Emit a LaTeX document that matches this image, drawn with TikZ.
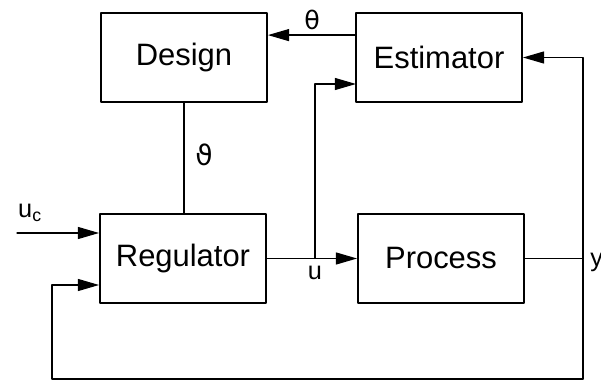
\documentclass[tikz,border=0pt]{standalone}
\usepackage{fontspec}
\setmainfont{Liberation Sans}
\newfontfamily\grk{DejaVu Sans}
\usetikzlibrary{arrows.meta}
\tikzset{
  blk/.style={draw,line width=1.3pt,minimum width=4.15cm,minimum height=2.225cm,inner sep=0pt},
  sig/.style={line width=0.9pt},
  lbl/.style={font=\fontsize{18}{20}\selectfont,inner sep=0pt}
}
\begin{document}
\begin{tikzpicture}[x=0.025cm,y=-0.025cm,>={Triangle[length=15pt,width=8.5pt]},line join=round,line cap=round,font=\fontsize{22}{26}\selectfont]
	\useasboundingbox (0,0) rectangle (601,381);
	\path (184,57.5) node[blk] (D) {Design}
	(439,57.5) node[blk] (E) {Estimator}
	(183,258.5) node[blk] (R) {Regulator}
	(441,258.5) node[blk] (P) {Process}
	(17,233) coordinate (uc)
	(52,285) coordinate (fbl)
	(583,379) coordinate (fb)
	(583,258.5) coordinate (yj)
	(315,258.5) coordinate (ub)
	(356,84) coordinate (eu)
	;
	% parameter paths
	\draw[sig,->] ([yshift=0.56cm]E.west) -- ([yshift=0.56cm]D.east);
	\draw[sig] (D.south) -- (D.south |- R.north);
	% control signal
	\draw[sig,->] (uc) -- (uc -| R.west);
	\draw[sig,->] (R.east) -- (P.west);
	\draw[sig,->] (ub) |- (eu);
	% output and feedback
	\draw[sig] (P.east) -- (yj);
	\draw[sig,->] (fb) -- (fb |- E.east) -- (E.east);
	\draw[sig,->] (fb) -| (fbl) -- (fbl -| R.west);
	\node[lbl] (theta) at (312,20) {\grk θ};
	\node[lbl] (vtheta) at (204,155) {\grk\fontsize{20}{22}\selectfont ϑ};
	\node[lbl] (uclbl) at (30,213) {u\textsubscript{c}};
	\node[lbl] (ulbl) at (315,273) {u};
	\node[lbl,anchor=west] (ylbl) at (590,262) {y};
\end{tikzpicture}
\end{document}
